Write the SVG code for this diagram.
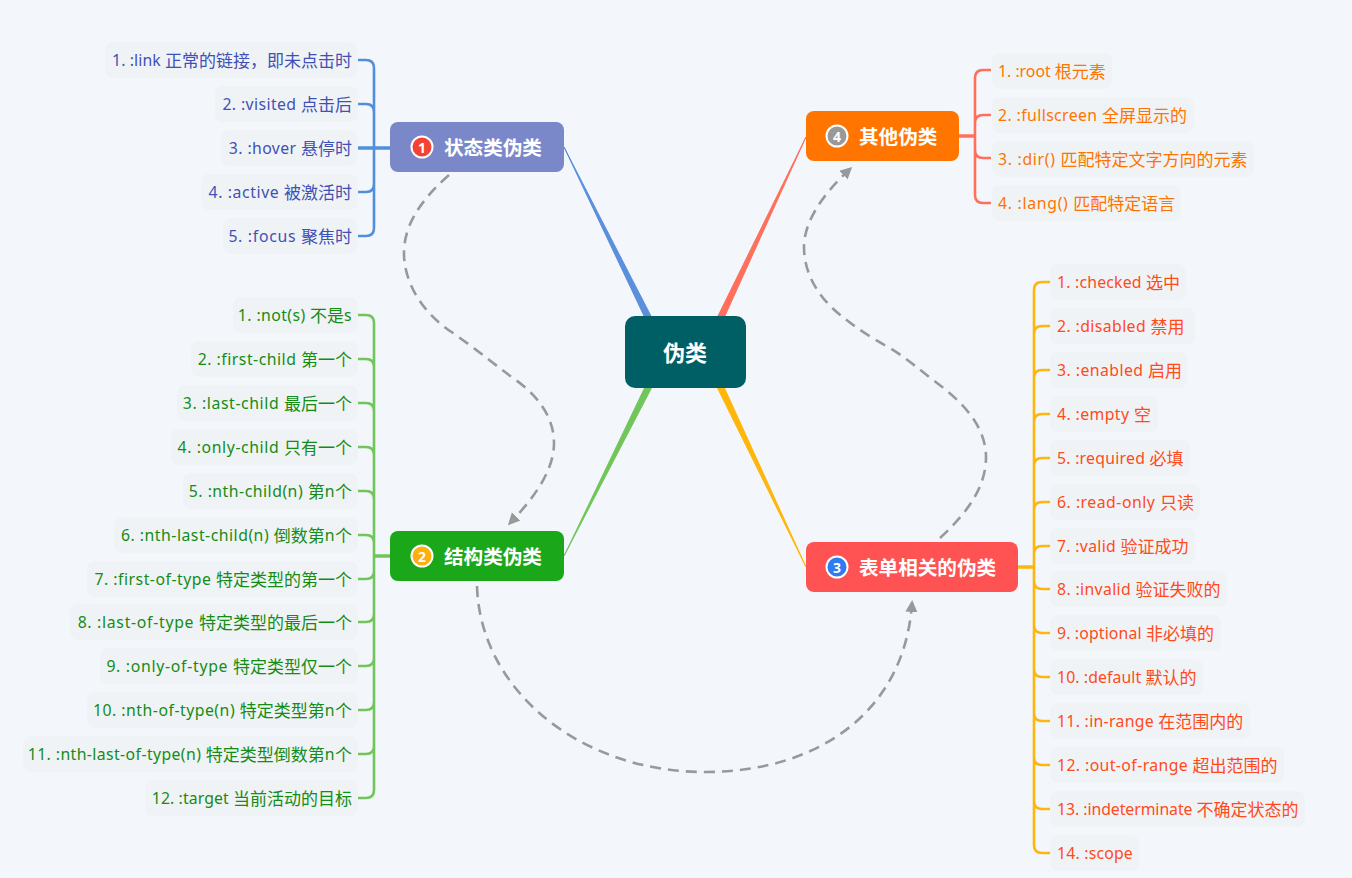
<svg xmlns="http://www.w3.org/2000/svg" width="1352" height="878" viewBox="0 0 1352 878">
<style>
text{font-family:"Noto Sans","Noto Sans CJK SC",sans-serif;font-size:15.8px;dominant-baseline:central}
.z{font-size:17px;letter-spacing:0}
.p{fill:#f0f3f5}
.a text{fill:#3f51b5;text-anchor:end}
.b text{fill:#158c15;text-anchor:end}
.c text{fill:#ff4a1c}
.d text{fill:#ff7300}
.t{fill:#fff;font-size:19.6px;font-weight:700}
.n{fill:#fff;font-size:14px;font-weight:700;text-anchor:middle}
.s{stroke:#fff;stroke-width:2}
.br{fill:none;stroke-width:2.6}
.dash{fill:none;stroke:#999;stroke-width:2.6;stroke-dasharray:11 7}
.tap{stroke-width:1;stroke-linejoin:round}
</style>
<defs><marker id="ah" markerWidth="14" markerHeight="14" refX="9" refY="6" orient="auto" markerUnits="userSpaceOnUse"><path d="M0,0L12,6L0,12Z" fill="#999"/></marker></defs>
<rect width="1352" height="878" fill="#f3f7fb"/>
<g id="connectors">
<path class="tap" d="M645,318L652,318L564,147Z" fill="#5a8fdc" stroke="#5a8fdc"/>
<path class="tap" d="M717,318L724,318L806,137Z" fill="#ff6f5c" stroke="#ff6f5c"/>
<path class="tap" d="M645,387L652,387L564,556Z" fill="#72c55a" stroke="#72c55a"/>
<path class="tap" d="M717,387L724,387L806,567Z" fill="#ffb60a" stroke="#ffb60a"/>
<g class="br" stroke="#4f8fdc">
<path d="M358,60H366Q374,60 374,68V228Q374,236 366,236H358M358,104H366Q374,104 374,112M358,192H366Q374,192 374,184"/>
<path d="M358,148H390" stroke-width="3.5"/>
</g>
<g class="br" stroke="#72c55a">
<path d="M358,315H366Q374,315 374,323V790Q374,798 366,798H358M358,359H366Q374,359 374,367M358,403H366Q374,403 374,411M358,447H366Q374,447 374,455M358,491H366Q374,491 374,499M358,535H366Q374,535 374,543M358,579H366Q374,579 374,571M358,622H366Q374,622 374,614M358,666H366Q374,666 374,658M358,710H366Q374,710 374,702M358,754H366Q374,754 374,746"/>
<path d="M374,556H390" stroke-width="3.5"/>
</g>
<g class="br" stroke="#ffb60a">
<path d="M1050,282H1042Q1034,282 1034,290V845Q1034,853 1042,853H1050M1050,326H1042Q1034,326 1034,334M1050,370H1042Q1034,370 1034,378M1050,414H1042Q1034,414 1034,422M1050,458H1042Q1034,458 1034,466M1050,502H1042Q1034,502 1034,510M1050,546H1042Q1034,546 1034,554M1050,589H1042Q1034,589 1034,581M1050,633H1042Q1034,633 1034,625M1050,677H1042Q1034,677 1034,669M1050,721H1042Q1034,721 1034,713M1050,765H1042Q1034,765 1034,757M1050,809H1042Q1034,809 1034,801"/>
<path d="M1018,567H1034" stroke-width="3.5"/>
</g>
<g class="br" stroke="#ff6f5c">
<path d="M991,70H983Q975,70 975,78V195Q975,203 983,203H991M991,115H983Q975,115 975,123M991,158H983Q975,158 975,150"/>
<path d="M959,136H975" stroke-width="3.5"/>
</g>
<path class="dash" d="M449,175C415,205 404,230 404,253C404,285 425,315 453,333C480,352 495,365 513,378C535,393 554,415 554,443C554,470 535,497 510,523" marker-end="url(#ah)"/>
<path class="dash" d="M477,586C480,690 580,772 705,772C820,772 905,710 912,603" marker-end="url(#ah)"/>
<path class="dash" d="M940,538C968,512 986,487 986,457C986,425 960,400 937,383C920,370 905,357 890,348C870,337 855,327 843,317C820,300 804,275 804,247C804,222 822,195 850,169" marker-end="url(#ah)"/>
</g>
<g id="root"><rect x="625" y="316" width="121" height="72" rx="10" fill="#005f65"/><text x="685" y="352" text-anchor="middle" fill="#fff" style="font-size:22px;font-weight:700">伪类</text></g>
<g id="topic1"><rect x="390" y="122" width="174" height="50" rx="8" fill="#7a87c9"/><circle class="s" cx="422" cy="147" r="10.5" fill="#f44336"/><text class="n" x="422" y="147">1</text><text class="t" x="444" y="147">状态类伪类</text></g>
<g id="topic2"><rect x="390" y="531" width="174" height="50" rx="8" fill="#1aa81a"/><circle class="s" cx="422" cy="556" r="10.5" fill="#ffae0d"/><text class="n" x="422" y="556">2</text><text class="t" x="444" y="556">结构类伪类</text></g>
<g id="topic3"><rect x="806" y="542" width="212" height="50" rx="8" fill="#ff5252"/><circle class="s" cx="837" cy="567" r="10.5" fill="#2f7bf0"/><text class="n" x="837" y="567">3</text><text class="t" x="859" y="567">表单相关的伪类</text></g>
<g id="topic4"><rect x="806" y="111" width="153" height="50" rx="8" fill="#ff7500"/><circle class="s" cx="837" cy="136" r="10.5" fill="#999"/><text class="n" x="837" y="136">4</text><text class="t" x="859" y="136">其他伪类</text></g>
<g class="a">
<g id="a1"><rect class="p" x="105" y="42" width="253" height="36" rx="8"/><text x="352" y="60" letter-spacing=".1">1. :link <tspan class="z">正常的链接，即未点击时</tspan></text></g>
<g id="a2"><rect class="p" x="215" y="86" width="143" height="36" rx="8"/><text x="352" y="104" letter-spacing=".4">2. :visited <tspan class="z">点击后</tspan></text></g>
<g id="a3"><rect class="p" x="221" y="130" width="137" height="36" rx="8"/><text x="352" y="148" letter-spacing=".4">3. :hover <tspan class="z">悬停时</tspan></text></g>
<g id="a4"><rect class="p" x="201" y="174" width="157" height="36" rx="8"/><text x="352" y="192" letter-spacing=".6">4. :active <tspan class="z">被激活时</tspan></text></g>
<g id="a5"><rect class="p" x="223" y="218" width="135" height="36" rx="8"/><text x="352" y="236" letter-spacing=".7">5. :focus <tspan class="z">聚焦时</tspan></text></g>
</g>
<g class="b">
<g id="b1"><rect class="p" x="233" y="297" width="125" height="36" rx="8"/><text x="352" y="315" letter-spacing=".4">1. :not(s) <tspan class="z">不是</tspan>s</text></g>
<g id="b2"><rect class="p" x="191" y="341" width="167" height="36" rx="8"/><text x="352" y="359" letter-spacing=".5">2. :first-child <tspan class="z">第一个</tspan></text></g>
<g id="b3"><rect class="p" x="177" y="385" width="181" height="36" rx="8"/><text x="352" y="403" letter-spacing=".6">3. :last-child <tspan class="z">最后一个</tspan></text></g>
<g id="b4"><rect class="p" x="171" y="429" width="187" height="36" rx="8"/><text x="352" y="447" letter-spacing=".6">4. :only-child <tspan class="z">只有一个</tspan></text></g>
<g id="b5"><rect class="p" x="183" y="473" width="175" height="36" rx="8"/><text x="352" y="491" letter-spacing=".5">5. :nth-child(n) <tspan class="z">第</tspan>n<tspan class="z">个</tspan></text></g>
<g id="b6"><rect class="p" x="114" y="517" width="244" height="36" rx="8"/><text x="352" y="535" letter-spacing=".5">6. :nth-last-child(n) <tspan class="z">倒数第</tspan>n<tspan class="z">个</tspan></text></g>
<g id="b7"><rect class="p" x="87" y="561" width="271" height="36" rx="8"/><text x="352" y="579" letter-spacing=".5">7. :first-of-type <tspan class="z">特定类型的第一个</tspan></text></g>
<g id="b8"><rect class="p" x="70" y="604" width="288" height="36" rx="8"/><text x="352" y="622" letter-spacing=".7">8. :last-of-type <tspan class="z">特定类型的最后一个</tspan></text></g>
<g id="b9"><rect class="p" x="100" y="648" width="258" height="36" rx="8"/><text x="352" y="666" letter-spacing=".7">9. :only-of-type <tspan class="z">特定类型仅一个</tspan></text></g>
<g id="b10"><rect class="p" x="87" y="692" width="271" height="36" rx="8"/><text x="352" y="710" letter-spacing=".5">10. :nth-of-type(n) <tspan class="z">特定类型第</tspan>n<tspan class="z">个</tspan></text></g>
<g id="b11"><rect class="p" x="23" y="736" width="335" height="36" rx="8"/><text x="352" y="754" letter-spacing=".4">11. :nth-last-of-type(n) <tspan class="z">特定类型倒数第</tspan>n<tspan class="z">个</tspan></text></g>
<g id="b12"><rect class="p" x="145" y="780" width="213" height="36" rx="8"/><text x="352" y="798" letter-spacing=".1">12. :target <tspan class="z">当前活动的目标</tspan></text></g>
</g>
<g class="c">
<g id="c1"><rect class="p" x="1050" y="264" width="136" height="36" rx="8"/><text x="1057" y="282" letter-spacing=".2">1. :checked <tspan class="z">选中</tspan></text></g>
<g id="c2"><rect class="p" x="1050" y="308" width="145" height="36" rx="8"/><text x="1057" y="326" letter-spacing=".4">2. :disabled <tspan class="z">禁用</tspan></text></g>
<g id="c3"><rect class="p" x="1050" y="352" width="137" height="36" rx="8"/><text x="1057" y="370" letter-spacing=".45">3. :enabled <tspan class="z">启用</tspan></text></g>
<g id="c4"><rect class="p" x="1050" y="396" width="108" height="36" rx="8"/><text x="1057" y="414" letter-spacing=".4">4. :empty <tspan class="z">空</tspan></text></g>
<g id="c5"><rect class="p" x="1050" y="440" width="140" height="36" rx="8"/><text x="1057" y="458" letter-spacing=".25">5. :required <tspan class="z">必填</tspan></text></g>
<g id="c6"><rect class="p" x="1050" y="484" width="150" height="36" rx="8"/><text x="1057" y="502" letter-spacing=".5">6. :read-only <tspan class="z">只读</tspan></text></g>
<g id="c7"><rect class="p" x="1050" y="528" width="145" height="36" rx="8"/><text x="1057" y="546" letter-spacing=".3">7. :valid <tspan class="z">验证成功</tspan></text></g>
<g id="c8"><rect class="p" x="1050" y="571" width="177" height="36" rx="8"/><text x="1057" y="589" letter-spacing=".35">8. :invalid <tspan class="z">验证失败的</tspan></text></g>
<g id="c9"><rect class="p" x="1050" y="615" width="171" height="36" rx="8"/><text x="1057" y="633" letter-spacing=".15">9. :optional <tspan class="z">非必填的</tspan></text></g>
<g id="c10"><rect class="p" x="1050" y="659" width="153" height="36" rx="8"/><text x="1057" y="677" letter-spacing=".1">10. :default <tspan class="z">默认的</tspan></text></g>
<g id="c11"><rect class="p" x="1050" y="703" width="200" height="36" rx="8"/><text x="1057" y="721" letter-spacing=".3">11. :in-range <tspan class="z">在范围内的</tspan></text></g>
<g id="c12"><rect class="p" x="1050" y="747" width="234" height="36" rx="8"/><text x="1057" y="765" letter-spacing=".4">12. :out-of-range <tspan class="z">超出范围的</tspan></text></g>
<g id="c13"><rect class="p" x="1050" y="791" width="255" height="36" rx="8"/><text x="1057" y="809" letter-spacing="-.05">13. :indeterminate <tspan class="z">不确定状态的</tspan></text></g>
<g id="c14"><rect class="p" x="1050" y="835" width="89" height="36" rx="8"/><text x="1057" y="853" letter-spacing=".2">14. :scope</text></g>
</g>
<g class="d">
<g id="d1"><rect class="p" x="992" y="53" width="120" height="36" rx="8"/><text x="998" y="71">1. :root <tspan class="z">根元素</tspan></text></g>
<g id="d2"><rect class="p" x="992" y="97" width="202" height="36" rx="8"/><text x="998" y="115" letter-spacing=".4">2. :fullscreen <tspan class="z">全屏显示的</tspan></text></g>
<g id="d3"><rect class="p" x="992" y="141" width="262" height="36" rx="8"/><text x="998" y="159" letter-spacing=".7">3. :dir() <tspan class="z">匹配特定文字方向的元素</tspan></text></g>
<g id="d4"><rect class="p" x="992" y="185" width="189" height="36" rx="8"/><text x="998" y="203" letter-spacing=".7">4. :lang() <tspan class="z">匹配特定语言</tspan></text></g>
</g>
</svg>
